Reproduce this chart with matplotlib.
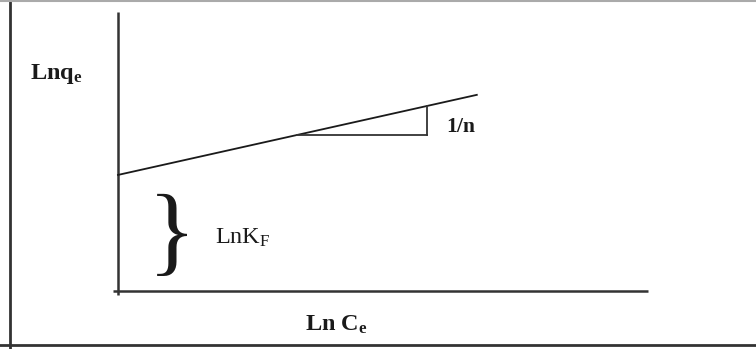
import matplotlib
matplotlib.use("Agg")
import matplotlib.pyplot as plt
from matplotlib.lines import Line2D

plt.rcParams["mathtext.fontset"] = "custom"
plt.rcParams["mathtext.rm"] = "Liberation Serif"
plt.rcParams["mathtext.bf"] = "Liberation Serif:bold"
plt.rcParams["mathtext.it"] = "Liberation Serif:italic"

# Freundlich isotherm (linearised): ln qe = ln KF + (1/n) ln Ce
ln_kf = 4.16          # intercept
inv_n = 0.424         # slope 1/n
ln_ce_range = [0.0, 6.77]
slope_run = [3.38, 5.83]   # horizontal leg of the slope triangle

x_label = r"$\mathbf{Ln\ C_e}$"
y_label = r"$\mathbf{Lnq_e}$"
intercept_label = r"$\mathrm{LnK_F}$"
slope_label = r"$\mathbf{1/n}$"

INK = "#1a1a1a"

fig = plt.figure(figsize=(7.56, 3.49), dpi=100)
ax = fig.add_axes([118 / 756, 1 - 291 / 349, 530 / 756, 279 / 349])
ax.set_xlim(0, 10)
ax.set_ylim(0, 10)
ax.axis("off")

# axes drawn as plain lines, slightly overshooting at the origin
ax.plot([0, 0], [-0.15, 10], color="#333333", lw=1.8, clip_on=False, solid_capstyle="butt")
ax.plot([-0.1, 10], [0, 0], color="#333333", lw=1.8, clip_on=False, solid_capstyle="butt")

# isotherm line
ys = [ln_kf + inv_n * x for x in ln_ce_range]
ax.plot(ln_ce_range, ys, color=INK, lw=1.3, clip_on=False)

# slope triangle
y_lo = ln_kf + inv_n * slope_run[0]
y_hi = ln_kf + inv_n * slope_run[1]
ax.plot([slope_run[0], slope_run[1]], [y_lo, y_lo], color="#333333", lw=1.3)
ax.plot([slope_run[1], slope_run[1]], [y_lo, y_hi], color="#333333", lw=1.3)
ax.text(slope_run[1] + 0.36, (y_lo + y_hi) / 2 - 0.4, slope_label,
        fontsize=15.5, color=INK, ha="left", va="baseline")

# brace spanning the intercept
ax.text(1.02, 1.85, "}", family="Liberation Serif", fontsize=72, color=INK,
        ha="center", va="center", clip_on=False)
ax.text(1.83, 1.68, intercept_label, fontsize=17.5, color=INK,
        ha="left", va="baseline", clip_on=False)

# axis titles
ax.text(-1.66, 7.6, y_label, fontsize=17.5, color=INK,
        ha="left", va="baseline", clip_on=False)
ax.text(3.53, -1.43, x_label, fontsize=17.5, color=INK,
        ha="left", va="baseline", clip_on=False)

# outer frame (left, bottom dark; top light)
fig.add_artist(Line2D([10 / 756, 10 / 756], [0, 1], transform=fig.transFigure,
                      color="#333333", lw=2))
fig.add_artist(Line2D([0, 1], [1 - 344.5 / 349] * 2, transform=fig.transFigure,
                      color="#333333", lw=2))
fig.add_artist(Line2D([0, 1], [1 - 0.8 / 349] * 2, transform=fig.transFigure,
                      color="#aaaaaa", lw=1.5))

fig.savefig("out.png", dpi=100)
